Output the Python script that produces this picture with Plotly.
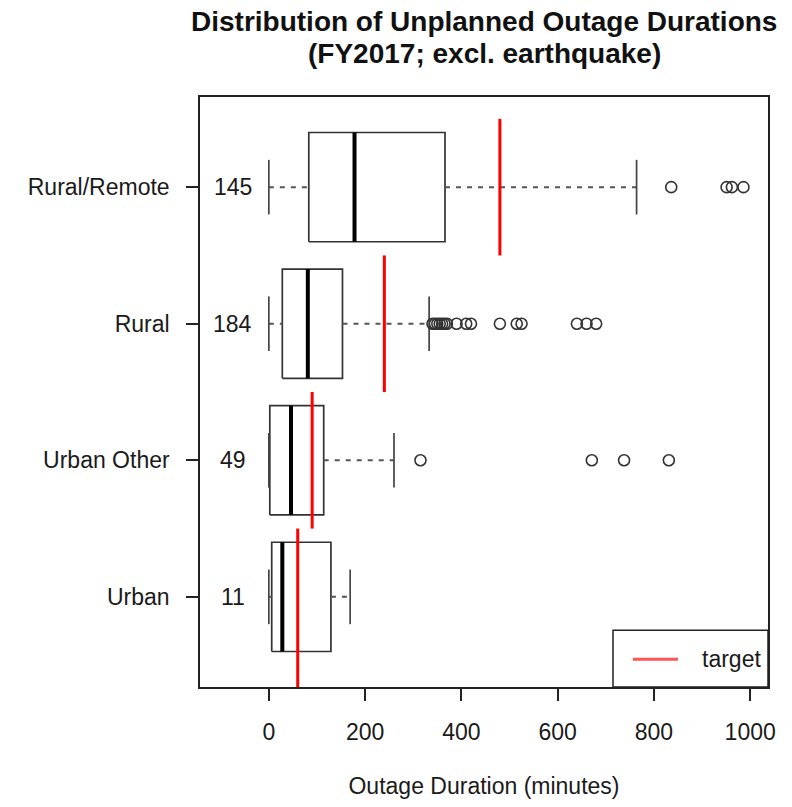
import plotly.graph_objects as go

# ---- data ----
categories = ["Urban", "Urban Other", "Rural", "Rural/Remote"]
counts = [11, 49, 184, 145]
lower_whisker = [0, 0, 0, 0]
q1 = [6, 2, 28, 83]
median = [28, 46, 81, 178]
q3 = [129, 114, 153, 366]
upper_whisker = [169, 260, 333, 764]
targets = [60, 90, 240, 480]
outliers = [
    [],
    [315, 671, 738, 831],
    [340, 345, 350, 355, 360, 365, 370, 390, 410, 420, 480, 515, 525, 640, 660, 680],
    [836, 951, 962, 986],
]
x_ticks = [0, 200, 400, 600, 800, 1000]
title_lines = ["Distribution of Unplanned Outage Durations", "(FY2017; excl. earthquake)"]
x_title = "Outage Duration (minutes)"
legend_label = "target"

FONT = "Liberation Sans, Arial, sans-serif"
TXT = "#1a1a1a"
BOX = "#333333"
HALF = 0.4      # half box width
CAP = 0.2       # half staple width
Y_MIN, Y_MAX = 0.34, 4.66
FS = 23

# plot-area geometry in pixels
L, R, T, B = 200, 24, 97, 117
W, H = 792, 807
PW, PH = W - L - R, H - T - B

fig = go.Figure()

for i, cat in enumerate(categories):
    y = i + 1
    fig.add_trace(go.Scatter(
        x=[q1[i], q3[i], q3[i], q1[i], q1[i]],
        y=[y - HALF, y - HALF, y + HALF, y + HALF, y - HALF],
        mode="lines", line=dict(color=BOX, width=1.7),
        showlegend=False, hoverinfo="skip"))
    fig.add_trace(go.Scatter(
        x=[median[i], median[i]], y=[y - HALF, y + HALF],
        mode="lines", line=dict(color="#000000", width=4),
        showlegend=False, hoverinfo="skip"))
    fig.add_trace(go.Scatter(
        x=[lower_whisker[i], q1[i], None, q3[i], upper_whisker[i]],
        y=[y, y, None, y, y],
        mode="lines", line=dict(color="#555555", width=2, dash="5px,6px"),
        showlegend=False, hoverinfo="skip"))
    fig.add_trace(go.Scatter(
        x=[lower_whisker[i], lower_whisker[i], None, upper_whisker[i], upper_whisker[i]],
        y=[y - CAP, y + CAP, None, y - CAP, y + CAP],
        mode="lines", line=dict(color="#444444", width=1.7),
        showlegend=False, hoverinfo="skip"))
    if outliers[i]:
        fig.add_trace(go.Scatter(
            x=outliers[i], y=[y] * len(outliers[i]),
            mode="markers",
            marker=dict(symbol="circle-open", size=11, color="#333333",
                        line=dict(width=1.6)),
            showlegend=False, hoverinfo="skip"))

# target lines
for i, t in enumerate(targets):
    y = i + 1
    y0 = Y_MIN if i == 0 else y - 0.5
    fig.add_trace(go.Scatter(
        x=[t, t], y=[y0, y + 0.5], mode="lines",
        line=dict(color="#ff0000", width=3),
        name=legend_label, showlegend=False, hoverinfo="skip"))

# counts
for i, c in enumerate(counts):
    fig.add_annotation(x=-75, y=i + 1, text=str(c), showarrow=False,
                       font=dict(size=FS, color=TXT, family=FONT),
                       xanchor="center", yanchor="middle")

# title (two lines, placed in pixel terms relative to plot area)
for line, ypx in zip(title_lines, [21, 53]):
    fig.add_annotation(xref="paper", yref="paper",
                       x=0.5, y=1 + (T - ypx) / PH,
                       text=f"<b>{line}</b>", showarrow=False,
                       xanchor="center", yanchor="middle",
                       font=dict(size=28, color="#111111", family=FONT))

# legend box (bottom-right, as in the reference)
lx0 = (613 - L) / PW
ly1 = (690 - 633) / PH
fig.add_shape(type="rect", xref="paper", yref="paper", x0=lx0, x1=1, y0=0, y1=ly1,
              line=dict(color="#222222", width=1.5), fillcolor="white", layer="above")
ly = (690 - 662) / PH
fig.add_shape(type="line", xref="paper", yref="paper",
              x0=(633 - L) / PW, x1=(678 - L) / PW, y0=ly, y1=ly,
              line=dict(color="#ff5555", width=3), layer="above")
fig.add_annotation(xref="paper", yref="paper", x=(700 - L) / PW, y=ly,
                   text=legend_label, showarrow=False, xanchor="left", yanchor="middle",
                   font=dict(size=FS, color=TXT, family=FONT))

fig.update_layout(
    width=W, height=H,
    margin=dict(l=L, r=R, t=T, b=B),
    paper_bgcolor="white", plot_bgcolor="white",
    font=dict(family=FONT, size=FS, color=TXT),
    showlegend=False,
)

fig.update_xaxes(
    range=[-143, 1037], tickvals=x_ticks, ticktext=[str(v) for v in x_ticks],
    ticks="outside", ticklen=12, tickcolor="#222222", tickwidth=1.5,
    ticklabelstandoff=12,
    showline=True, linecolor="#222222", linewidth=1.5, mirror=True,
    showgrid=False, zeroline=False,
    title=dict(text=x_title, standoff=34,
               font=dict(size=FS, color=TXT, family=FONT)))
fig.update_yaxes(
    range=[Y_MIN, Y_MAX], tickvals=[1, 2, 3, 4], ticktext=categories,
    ticks="outside", ticklen=12, tickcolor="#222222", tickwidth=1.5,
    ticklabelstandoff=12,
    showline=True, linecolor="#222222", linewidth=1.5, mirror=True,
    showgrid=False, zeroline=False)

fig.write_html("out.html")
